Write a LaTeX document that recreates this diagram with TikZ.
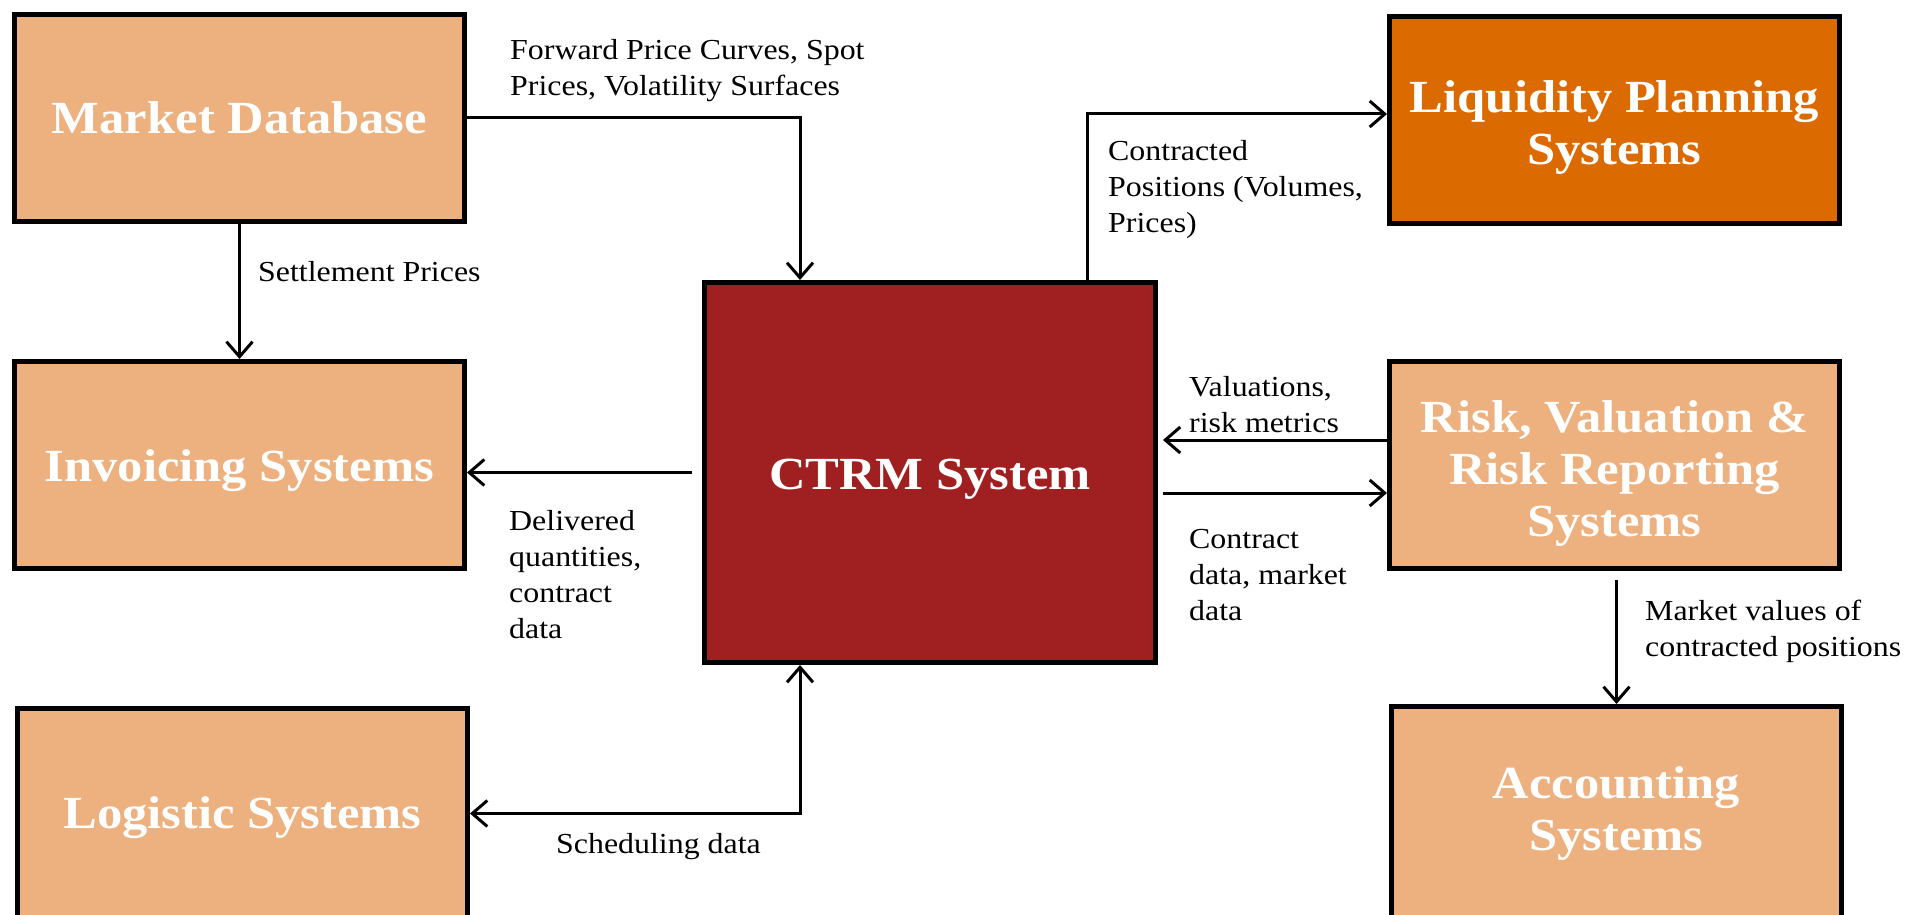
\documentclass[tikz,border=0pt]{standalone}
\usepackage{fontspec}
\setmainfont{Liberation Serif}[FakeStretch=1.1]
\usetikzlibrary{arrows.meta,calc}
\definecolor{sandbox}{RGB}{237,177,128}
\definecolor{ambercore}{RGB}{219,106,0}
\definecolor{ctrmred}{RGB}{160,31,32}
\tikzset{
  sysbox/.style={draw=black, line width=5pt, fill=sandbox,
    minimum width=450pt, minimum height=207pt, inner sep=0pt},
  boxtitle/.style={text=white, inner sep=0pt, align=center,
    font=\bfseries\fontsize{46}{52}\selectfont},
  barb/.tip={Straight Barb[length=15pt,width=26pt,line width=3pt]},
  conn/.style={line width=3pt, -barb},
  flowlabel/.style={inner sep=0pt, anchor=west, align=left,
    font=\fontsize{29}{36}\selectfont}
}
\begin{document}
\begin{tikzpicture}[x=1pt,y=-1pt]
\useasboundingbox (0,0) rectangle (1928,915);
\clip (0,0) rectangle (1928,915);

% systems
\node[sysbox, label={[boxtitle]center:Market Database}] (mkt) at (239.5,118) {};
\node[sysbox, label={[boxtitle, yshift=-6pt]center:Invoicing Systems}] (inv) at (239.5,465) {};
\node[sysbox, minimum height=214pt, label={[boxtitle, yshift=-2pt]center:Logistic Systems}] (log) at (242.5,815.5) {};
\node[sysbox, fill=ctrmred, minimum width=451pt, minimum height=380pt,
  label={[boxtitle, yshift=-7pt]center:CTRM System}] (ctrm) at (930,472.5) {};
\node[sysbox, fill=ambercore,
  label={[boxtitle, yshift=-8pt]center:{Liquidity Planning\\Systems}}] (liq) at (1614.5,120) {};
\node[sysbox, label={[boxtitle, yshift=-9pt]center:{Risk, Valuation \&\\Risk Reporting\\Systems}}] (risk) at (1614.5,465) {};
\node[sysbox, minimum height=214pt, label={[boxtitle]center:{Accounting\\Systems}}] (acc) at (1616.5,813.5) {};

% data flows
\draw[conn] (mkt.east) -| ([xshift=-130pt]ctrm.north);
\draw[conn] (mkt.south) -- (inv.north);
\draw[conn, shorten <=10pt] (ctrm.west) -- (ctrm.west -| inv.east);
\draw[conn, barb-barb] ([yshift=2pt]log.east) -| ([xshift=-130pt]ctrm.south);
\draw[conn] ([xshift=157pt]ctrm.north) |- ([yshift=6pt]liq.west);
\draw[conn, shorten >=5pt] ([yshift=25pt]risk.west) -- ([yshift=25pt]risk.west -| ctrm.east);
\draw[conn, shorten <=5pt] (ctrm.east |- 0,493) -- (risk.west |- 0,493);
\draw[conn, shorten <=9pt] (risk.south -| acc.north) -- (acc.north);

% flow labels
\node[flowlabel] (lfwd) at (510,71) {Forward Price Curves, Spot\\Prices, Volatility Surfaces};
\node[flowlabel] (lset) at (258,272) {Settlement Prices};
\node[flowlabel] (lcon) at (1108,190) {Contracted\\Positions (Volumes,\\Prices)};
\node[flowlabel] (lval) at (1189,405) {Valuations,\\risk metrics};
\node[flowlabel] (lcd) at (1189,575) {Contract\\data, market\\data};
\node[flowlabel] (ldel) at (509,575) {Delivered\\quantities,\\contract\\data};
\node[flowlabel] (lsch) at (556,847) {Scheduling data};
\node[flowlabel] (lmv) at (1645,631) {Market values of\\contracted positions};
\end{tikzpicture}
\end{document}
